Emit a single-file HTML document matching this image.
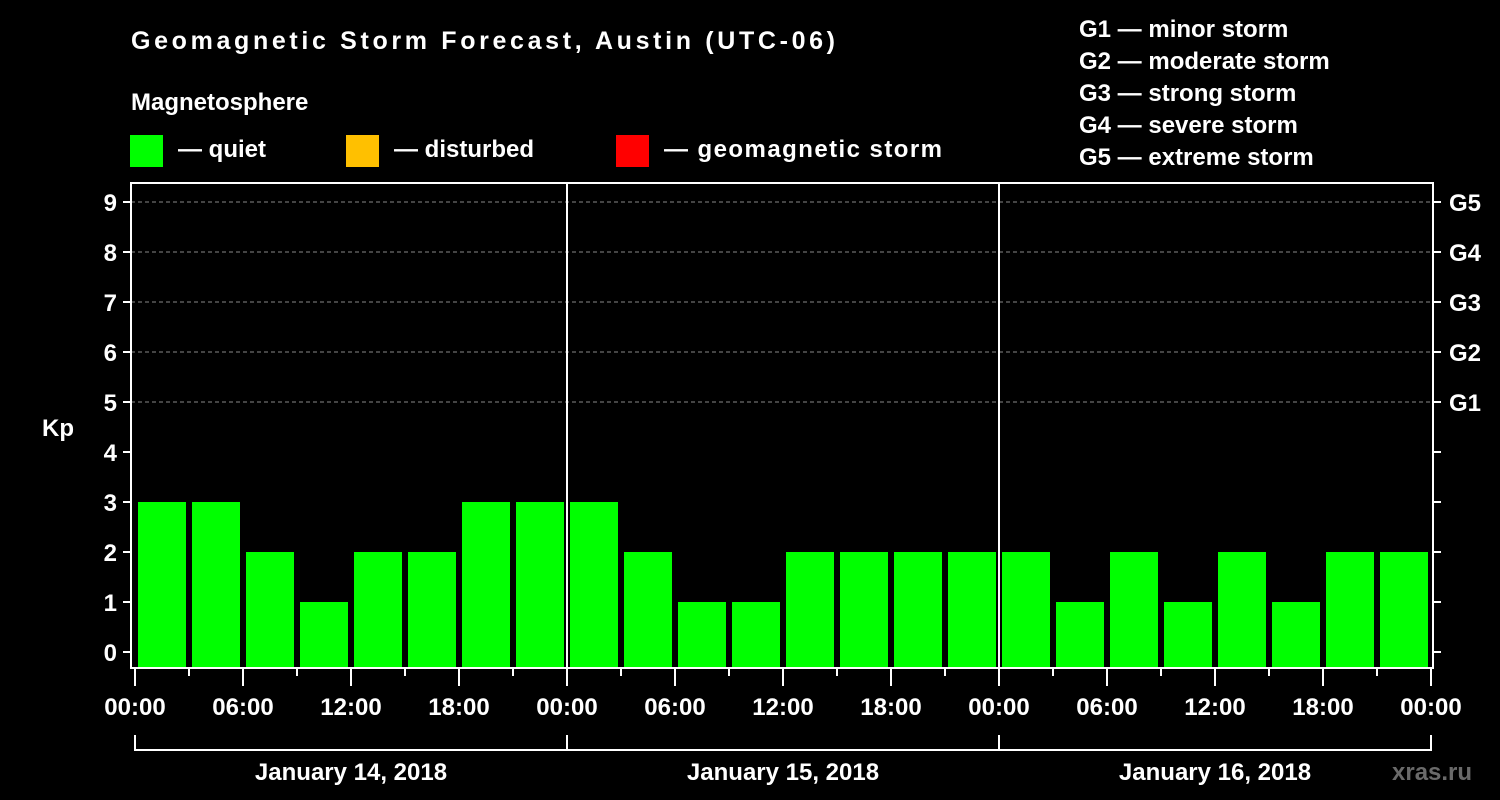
<!DOCTYPE html>
<html><head><meta charset="utf-8"><style>
html,body{margin:0;padding:0;background:#000;}
svg{display:block;}
text{font-family:"Liberation Sans",Arial,sans-serif;font-weight:bold;fill:#fff;}
</style></head><body>
<svg id="chart" width="1500" height="800" viewBox="0 0 1500 800">
<rect width="1500" height="800" fill="#000"/>
<text x="131" y="49" font-size="25" textLength="704">Geomagnetic Storm Forecast, Austin (UTC-06)</text>
<text x="131" y="110" font-size="24">Magnetosphere</text>
<g><rect x="130" y="135" width="33" height="32" fill="#00ff00"/><text x="178" y="157" font-size="24">— quiet</text></g>
<g><rect x="346" y="135" width="33" height="32" fill="#ffc000"/><text x="394" y="157" font-size="24">— disturbed</text></g>
<g><rect x="616" y="135" width="33" height="32" fill="#ff0000"/><text x="664" y="157" font-size="24" textLength="278">— geomagnetic storm</text></g>
<g font-size="24">
<text x="1079" y="37">G1 — minor storm</text>
<text x="1079" y="69">G2 — moderate storm</text>
<text x="1079" y="101">G3 — strong storm</text>
<text x="1079" y="133">G4 — severe storm</text>
<text x="1079" y="165">G5 — extreme storm</text>
</g>
<text x="42" y="436" font-size="24">Kp</text>
<text x="1392" y="780" font-size="24" fill="#666" style="fill:#6a6a6a">xras.ru</text>
<g id="grid"></g><g id="bars"></g><g id="axes"></g>
</svg>
<script>
const kpValues = [3,3,2,1,2,2,3,3, 3,2,1,1,2,2,2,2, 2,1,2,1,2,1,2,2];
const yTicks = [0,1,2,3,4,5,6,7,8,9];
const gLabels = ["G1","G2","G3","G4","G5"];
const gLevels = [5,6,7,8,9];
const hourLabels = ["00:00","06:00","12:00","18:00"];
const dayLabels = ["January 14, 2018","January 15, 2018","January 16, 2018"];

const NS="http://www.w3.org/2000/svg";
const X0=135, SLOT=54, L=131, R=1433, T=183, B=668;
const x = i => X0 + i*SLOT;
const y = v => 652 - v*50;
function mk(tag, attrs, parent){const e=document.createElementNS(NS,tag);for(const k in attrs)e.setAttribute(k,attrs[k]);parent.appendChild(e);return e;}
const grid=document.getElementById('grid'), bars=document.getElementById('bars'), axes=document.getElementById('axes');

gLevels.forEach((lv,i)=>{
  const ln=mk('line',{x1:L,x2:R,y1:y(lv),y2:y(lv),stroke:'#888','stroke-width':1,'stroke-dasharray':'4,3'},grid);
  
  
  const tk=mk('line',{x1:R,x2:R+8,y1:y(lv),y2:y(lv),stroke:'#fff','stroke-width':2},axes);
  
  
  const t=mk('text',{x:R+16,y:y(lv)+9,'font-size':24},axes); t.textContent=gLabels[i];
  
  
});
for(let v=0;v<5;v++){
  const tk=mk('line',{x1:R,x2:R+8,y1:y(v),y2:y(v),stroke:'#fff','stroke-width':2},axes);
  
  
}
kpValues.forEach((v,i)=>{
  const c = v>=5?'#ff0000':(v>=4?'#ffc000':'#00ff00');
  const r=mk('rect',{x:x(i)+3,y:y(v),width:48,height:B-y(v),fill:c},bars);
  
  
});
yTicks.forEach(v=>{
  const tk=mk('line',{x1:L-8,x2:L,y1:y(v),y2:y(v),stroke:'#fff','stroke-width':2},axes);
  
  
  const t=mk('text',{x:L-14,y:y(v)+9,'font-size':24,'text-anchor':'end'},axes); t.textContent=v;
  
  
});
const box=mk('rect',{x:L,y:T,width:R-L,height:B-T,fill:'none',stroke:'#fff','stroke-width':2},axes);


[8,16].forEach(i=>{
  const s=mk('line',{x1:x(i),x2:x(i),y1:T,y2:B,stroke:'#fff','stroke-width':2},axes);
  
  
});
for(let i=0;i<=24;i++){
  const major=i%2===0;
  const tk=mk('line',{x1:x(i),x2:x(i),y1:B,y2:major?686:676,stroke:'#fff','stroke-width':2},axes);
  
  
  if(major){
    const t=mk('text',{x:x(i),y:715,'font-size':24,'text-anchor':'middle'},axes);
    t.textContent=hourLabels[(i/2)%4];
    
    
  }
}
dayLabels.forEach((d,k)=>{
  const a=x(k*8), b=x(k*8+8);
  const p=mk('path',{d:`M${a},735 V750 H${b} V735`,fill:'none',stroke:'#fff','stroke-width':2},axes);
  
  
  const t=mk('text',{x:(a+b)/2,y:780,'font-size':24,'text-anchor':'middle'},axes); t.textContent=d;
  
  
});
</script>
</body></html>
